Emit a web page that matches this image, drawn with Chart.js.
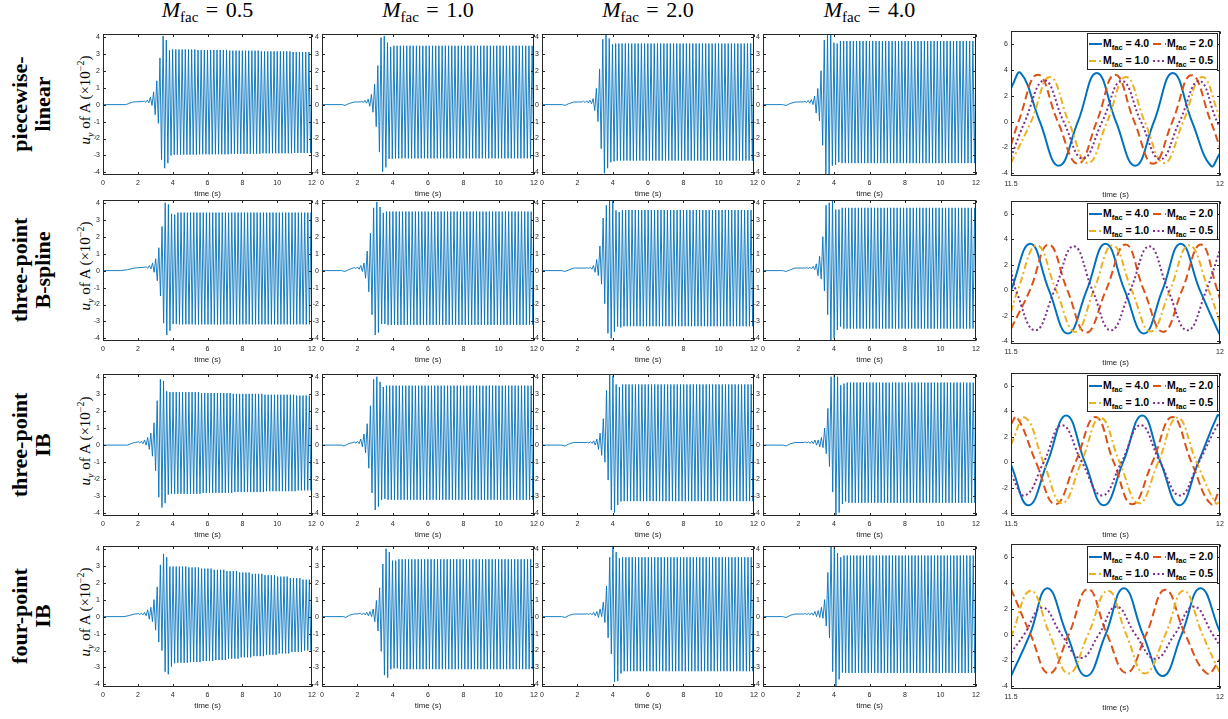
<!DOCTYPE html>
<html>
<head>
<meta charset="utf-8">
<title>u_y of A, four kernels, four mass factors</title>
<script src="https://cdn.jsdelivr.net/npm/chart.js@4.4.1/dist/chart.umd.min.js"></script>
<style>
  body { margin: 0; width: 1228px; height: 719px; background: #fff; position: relative; overflow: hidden; }
  canvas { position: absolute; }
  .lbl { position: absolute; white-space: nowrap; font-family: "Liberation Serif", "DejaVu Serif", serif; color: #000; }
  .coltitle { font-size: 22px; transform: translateX(-50%); }
  .coltitle sub { font-style: normal; font-size: 15px; vertical-align: -5px; line-height: 0; }
  .coltitle .eq { margin: 0 2px; }
  .rowlabel { font-size: 22px; font-weight: bold; line-height: 23px; text-align: center; transform: translate(-50%, -50%) rotate(-90deg); }
  .ylabel { font-size: 15px; transform: translate(-50%, -50%) rotate(-90deg); }
  .ylabel sub, .ylabel sup { font-size: 10px; line-height: 0; }
  .legend { position: absolute; border: 1px solid #262626; background: #fff; font: bold 10.5px "Liberation Sans", Arial, sans-serif; color: #000;
            padding: 1px 0 0 1px; box-sizing: border-box; overflow: hidden; }
  .legend .item { display: inline-block; width: 64px; height: 17px; line-height: 17px; white-space: nowrap; vertical-align: top; }
  .legend svg { vertical-align: middle; margin-right: 1px; }
  .legend sub { font-size: 7.5px; line-height: 0; vertical-align: -3px; }
</style>
</head>
<body>
<script>
// ---- tick values ----
const leftXTicks = [0, 2, 4, 6, 8, 10, 12];
const leftYTicks = [-4, -3, -2, -1, 0, 1, 2, 3, 4];
const zoomXTicks = [11.5, 12];
const zoomYTicks = [-4, -2, 0, 2, 4, 6];

const mfacLabels = ['0.5', '1.0', '2.0', '4.0'];
const kernelLabels = [['piecewise-', 'linear'], ['three-point', 'B-spline'], ['three-point', 'IB'], ['four-point', 'IB']];

// oscillation period (s), read from the 11.5-12 s close-ups
const PERIOD = 0.182;

// ---- slow drift before the flutter starts: [t, u] ----
const driftPL05 = [[0, 0], [1.3, 0], [1.45, 0.05], [1.7, 0.15], [2.0, 0.17], [2.3, 0.18]];
const driftPL10 = [[0, 0], [1.15, 0], [1.3, -0.05], [1.5, 0.05], [1.8, 0.15], [2.2, 0.16]];
const driftPL20 = [[0, 0], [1.15, 0], [1.3, -0.05], [1.5, 0.05], [1.8, 0.15], [2.3, 0.16]];
const driftPL40 = [[0, 0], [1.1, 0], [1.3, -0.05], [1.5, 0.05], [1.8, 0.15], [2.3, 0.16]];
const driftBS05 = [[0, 0], [1.0, 0], [1.4, 0.05], [1.8, 0.15], [2.4, 0.2]];
const driftBS10 = [[0, 0], [1.1, 0], [1.3, -0.05], [1.5, 0.05], [1.75, 0.15]];
const driftBS20 = [[0, 0], [1.1, 0], [1.3, -0.05], [1.55, 0.05], [1.8, 0.15], [2.5, 0.15]];
const driftBS40 = [[0, 0], [1.1, 0], [1.3, -0.05], [1.55, 0.05], [1.8, 0.15], [2.4, 0.15]];
const driftIB3_05 = [[0, 0], [1.4, 0], [1.6, 0.08], [1.8, 0.15], [1.95, 0.17]];
const driftIB3_10 = [[0, 0], [1.1, 0], [1.25, -0.05], [1.5, 0.08], [1.75, 0.15]];
const driftIB3_20 = [[0, 0], [1.1, 0], [1.3, -0.05], [1.55, 0.08], [1.8, 0.15], [2.5, 0.15]];
const driftIB3_40 = [[0, 0], [1.1, 0], [1.3, -0.05], [1.55, 0.08], [1.8, 0.15], [2.3, 0.15]];
const driftIB4_05 = [[0, 0], [1.2, 0], [1.45, 0.05], [1.8, 0.15], [1.95, 0.16]];
const driftIB4_10 = [[0, 0], [1.2, 0], [1.35, -0.05], [1.55, 0.08], [1.8, 0.15], [2.1, 0.17]];
const driftIB4_20 = [[0, 0], [1.1, 0], [1.3, -0.05], [1.55, 0.08], [1.8, 0.15], [2.5, 0.15]];
const driftIB4_40 = [[0, 0], [1.1, 0], [1.3, -0.05], [1.55, 0.08], [1.8, 0.15], [2.3, 0.15]];

// time of the first listed cycle, per kernel row (Mfac 0.5, 1.0, 2.0, 4.0)
const onsetPL = [2.36, 2.25, 2.35, 2.36];
const onsetBS = [2.48, 1.83, 2.55, 2.46];
const onsetIB3 = [2.02, 1.83, 2.56, 2.38];
const onsetIB4 = [2.02, 2.17, 2.56, 2.38];

// ---- cycle extremes: [upper peak, lower peak, number of cycles] ----
const peaksPL05 = [[0.22, 0.14, 1], [0.26, 0.1, 1], [0.45, -0.05, 1], [0.75, -0.6, 1], [1.4, -1.1, 1], [2.75, -3.25, 1],
  [4.05, -3.75, 1], [3.8, -3.45, 1], [3.2, -3.0, 1], [3.25, -2.95, 8], [3.22, -2.93, 10], [3.18, -2.9, 10], [3.14, -2.87, 10], [3.1, -2.85, 14]];
const peaksPL10 = [[0.2, 0.12, 1], [0.25, 0.08, 1], [0.32, -0.1, 1], [0.6, -0.45, 1], [1.2, -1.3, 1], [2.3, -2.8, 1],
  [3.95, -3.95, 1], [4.05, -3.7, 1], [3.65, -3.2, 1], [3.4, -3.2, 1], [3.47, -3.17, 50]];
const peaksPL20 = [[0.2, 0.12, 1], [0.22, 0.1, 1], [0.25, 0.05, 1], [0.35, -0.35, 1], [0.95, -1.0, 1], [2.1, -2.6, 1],
  [3.85, -4.05, 1], [4.2, -3.75, 1], [3.9, -3.4, 1], [3.55, -3.35, 1], [3.6, -3.3, 50]];
const peaksPL40 = [[0.2, 0.12, 1], [0.25, 0.08, 1], [0.3, 0.0, 1], [0.5, -0.5, 1], [0.95, -0.95, 1], [2.0, -2.4, 1],
  [3.8, -4.2, 1], [4.2, -4.2, 1], [4.2, -3.6, 1], [3.65, -3.55, 1], [3.6, -3.4, 1], [3.75, -3.45, 50]];

const peaksBS05 = [[0.22, 0.14, 1], [0.3, 0.1, 1], [0.45, -0.1, 1], [0.7, -0.6, 1], [1.35, -1.5, 1], [2.6, -3.1, 1],
  [4.0, -3.8, 1], [3.9, -3.55, 1], [3.35, -3.15, 1], [3.3, -3.15, 1], [3.42, -3.17, 50]];
const peaksBS10 = [[0.18, 0.12, 1], [0.22, 0.08, 1], [0.3, -0.05, 1], [0.45, -0.45, 1], [1.15, -1.25, 1], [2.2, -2.6, 1],
  [3.7, -3.8, 1], [4.05, -3.65, 1], [3.75, -3.15, 1], [3.4, -3.15, 1], [3.48, -3.2, 50]];
const peaksBS20 = [[0.18, 0.12, 1], [0.2, 0.08, 1], [0.3, -0.1, 1], [0.65, -0.3, 1], [1.45, -0.8, 1], [3.1, -1.95, 1],
  [3.85, -3.7, 1], [4.2, -4.0, 1], [4.2, -3.6, 1], [3.55, -3.3, 1], [3.45, -3.35, 1], [3.57, -3.28, 50]];
const peaksBS40 = [[0.18, 0.12, 1], [0.2, 0.1, 1], [0.25, 0.05, 1], [0.4, -0.3, 1], [0.85, -0.5, 1], [2.0, -1.2, 1],
  [3.85, -2.6, 1], [4.0, -4.2, 1], [4.2, -4.0, 1], [3.6, -3.5, 1], [3.6, -3.3, 1], [3.7, -3.42, 50]];

const peaksIB3_05 = [[0.2, 0.12, 1], [0.22, 0.08, 1], [0.3, 0.0, 1], [0.45, -0.25, 1], [0.7, -0.65, 1], [1.3, -1.5, 1],
  [2.6, -3.05, 1], [3.85, -3.65, 1], [3.75, -3.4, 1], [3.15, -2.9, 1], [3.1, -2.85, 10], [3.05, -2.8, 10],
  [3.0, -2.75, 10], [2.95, -2.7, 10], [2.9, -2.65, 12]];
const peaksIB3_10 = [[0.18, 0.12, 1], [0.22, 0.08, 1], [0.35, -0.1, 1], [0.65, -0.45, 1], [1.25, -1.35, 1], [2.3, -2.8, 1],
  [3.85, -3.8, 1], [4.0, -3.6, 1], [3.7, -3.2, 1], [3.4, -3.15, 1], [3.48, -3.2, 50]];
const peaksIB3_20 = [[0.18, 0.12, 1], [0.2, 0.1, 1], [0.25, 0.0, 1], [0.35, -0.25, 1], [0.7, -0.6, 1], [1.55, -1.0, 1],
  [3.2, -2.05, 1], [4.2, -3.8, 1], [4.05, -3.95, 1], [3.55, -3.5, 1], [3.4, -3.3, 1], [3.55, -3.28, 50]];
const peaksIB3_40 = [[0.18, 0.12, 1], [0.2, 0.1, 1], [0.22, 0.08, 1], [0.3, 0.0, 1], [0.3, -0.1, 1], [0.45, -0.15, 1],
  [1.0, -0.5, 1], [2.15, -1.25, 1], [4.0, -2.75, 1], [4.2, -4.2, 1], [4.0, -3.95, 1], [3.5, -3.45, 1],
  [3.6, -3.3, 1], [3.66, -3.38, 50]];

const peaksIB4_05 = [[0.18, 0.12, 1], [0.2, 0.1, 1], [0.25, 0.05, 1], [0.4, -0.15, 1], [0.55, -0.3, 1], [1.0, -0.8, 1],
  [1.75, -1.5, 1], [3.05, -2.0, 1], [3.7, -3.25, 1], [3.5, -3.4, 1], [2.95, -2.95, 1], [2.95, -2.75, 1],
  [2.95, -2.72, 4], [2.9, -2.68, 4], [2.83, -2.62, 4], [2.76, -2.56, 4], [2.68, -2.48, 4], [2.6, -2.4, 4],
  [2.52, -2.33, 4], [2.44, -2.25, 4], [2.36, -2.17, 4], [2.27, -2.08, 4], [2.18, -2.0, 6]];
const peaksIB4_10 = [[0.2, 0.12, 1], [0.22, 0.1, 1], [0.25, 0.05, 1], [0.3, 0.0, 1], [0.45, -0.3, 1], [0.95, -0.85, 1],
  [1.7, -2.05, 1], [3.1, -3.45, 1], [4.0, -3.6, 1], [3.8, -3.1, 1], [3.3, -3.05, 1], [3.3, -3.05, 1], [3.38, -3.1, 50]];
const peaksIB4_20 = [[0.18, 0.12, 1], [0.2, 0.1, 1], [0.25, 0.05, 1], [0.3, -0.05, 1], [0.45, 0.0, 1], [0.85, -0.35, 1],
  [1.8, -1.25, 1], [3.5, -2.2, 1], [4.2, -3.85, 1], [3.8, -3.8, 1], [3.45, -3.35, 1], [3.5, -3.22, 50]];
const peaksIB4_40 = [[0.18, 0.12, 1], [0.2, 0.1, 1], [0.22, 0.08, 1], [0.3, 0.0, 1], [0.35, -0.05, 1], [0.55, -0.1, 1],
  [1.0, -0.55, 1], [2.6, -1.25, 1], [4.2, -3.25, 1], [4.2, -4.2, 1], [3.75, -3.7, 1], [3.5, -3.3, 1], [3.6, -3.32, 50]];

// ---- close-ups 11.5-12 s: [t, u] at extremes and zero crossings ----
const zPL40 = [[11.5, 2.6], [11.523, 3.77], [11.569, 0], [11.614, -3.41], [11.66, 0], [11.705, 3.77], [11.751, 0], [11.797, -3.41], [11.842, 0], [11.887, 3.77], [11.933, 0], [11.978, -3.41], [12, -2.44]];
const zPL20 = [[11.5, -1.8], [11.518, 0], [11.564, 3.64], [11.612, 0], [11.66, -3.25], [11.705, 0], [11.749, 3.64], [11.795, 0], [11.84, -3.25], [11.886, 0], [11.932, 3.6], [11.978, 0], [12, -2.0]];
const zPL10 = [[11.5, -3.2], [11.548, 0], [11.593, 3.46], [11.638, 0], [11.684, -3.2], [11.73, 0], [11.775, 3.46], [11.82, 0], [11.866, -3.2], [11.912, 0], [11.957, 3.46], [12, 0.3]];
const zPL05 = [[11.5, -2.75], [11.533, 0], [11.58, 3.18], [11.626, 0], [11.672, -2.85], [11.718, 0], [11.765, 3.15], [11.811, 0], [11.857, -2.9], [11.903, 0], [11.95, 3.15], [11.993, 0], [12, -0.4]];

const zBS40 = [[11.5, 0], [11.546, 3.67], [11.591, 0], [11.636, -3.38], [11.681, 0], [11.726, 3.67], [11.772, 0], [11.818, -3.38], [11.862, 0], [11.906, 3.67], [11.952, 0], [11.998, -3.38], [12, -3.38]];
const zBS20 = [[11.5, -3.0], [11.545, 0], [11.59, 3.6], [11.635, 0], [11.68, -3.3], [11.727, 0], [11.774, 3.6], [11.818, 0], [11.864, -3.25], [11.909, 0], [11.954, 3.6], [11.994, 0], [12, -0.7]];
const zBS10 = [[11.5, -1.7], [11.516, 0], [11.562, 3.54], [11.608, 0], [11.654, -3.25], [11.698, 0], [11.743, 3.54], [11.789, 0], [11.834, -3.22], [11.88, 0], [11.926, 3.54], [11.973, 0], [12, -2.5]];
const zBS05 = [[11.5, 1.6], [11.512, 0], [11.558, -3.13], [11.604, 0], [11.65, 3.46], [11.695, 0], [11.739, -3.13], [11.785, 0], [11.831, 3.46], [11.876, 0], [11.922, -3.13], [11.967, 0], [12, 3.2]];

const zIB3_40 = [[11.5, -0.2], [11.542, -3.36], [11.587, 0], [11.632, 3.69], [11.677, 0], [11.722, -3.36], [11.768, 0], [11.814, 3.69], [11.858, 0], [11.903, -3.36], [11.948, 0], [11.994, 3.69], [12, 3.65]];
const zIB3_20 = [[11.5, 3.0], [11.514, 3.56], [11.56, 0], [11.606, -3.28], [11.654, 0], [11.702, 3.56], [11.746, 0], [11.79, -3.28], [11.838, 0], [11.886, 3.56], [11.932, 0], [11.978, -3.25], [12, -2.1]];
const zIB3_10 = [[11.5, 1.4], [11.534, 3.51], [11.578, 0], [11.622, -3.2], [11.668, 0], [11.714, 3.51], [11.76, 0], [11.806, -3.2], [11.852, 0], [11.898, 3.51], [11.944, 0], [11.99, -3.2], [12, -3.1]];
const zIB3_05 = [[11.5, -1.0], [11.534, -2.59], [11.578, 0], [11.622, 2.92], [11.67, 0], [11.718, -2.59], [11.764, 0], [11.81, 2.92], [11.857, 0], [11.904, -2.59], [11.949, 0], [11.994, 2.92], [12, 2.9]];

const zIB4_40 = [[11.5, -3.2], [11.545, 0], [11.587, 3.6], [11.634, 0], [11.68, -3.2], [11.726, 0], [11.77, 3.6], [11.816, 0], [11.863, -3.2], [11.908, 0], [11.953, 3.6], [12, 0.2]];
const zIB4_20 = [[11.5, 3.53], [11.547, 0], [11.591, -3.0], [11.638, 0], [11.684, 3.53], [11.73, 0], [11.776, -2.95], [11.823, 0], [11.869, 3.48], [11.917, 0], [11.969, -3.0], [12, -1.9]];
const zIB4_10 = [[11.5, -0.2], [11.547, 3.4], [11.593, 0], [11.638, -3.0], [11.684, 0], [11.732, 3.4], [11.776, 0], [11.82, -3.0], [11.869, 0], [11.913, 3.4], [11.958, 0], [12, -3.0]];
const zIB4_05 = [[11.5, -1.4], [11.531, 0], [11.575, 2.09], [11.621, 0], [11.667, -1.81], [11.71, 0], [11.752, 2.17], [11.798, 0], [11.845, -1.86], [11.891, 0], [11.937, 2.17], [11.983, 0], [12, -0.9]];

// ---- grouping per row ----
const drifts = [
  [driftPL05, driftPL10, driftPL20, driftPL40],
  [driftBS05, driftBS10, driftBS20, driftBS40],
  [driftIB3_05, driftIB3_10, driftIB3_20, driftIB3_40],
  [driftIB4_05, driftIB4_10, driftIB4_20, driftIB4_40]
];
const onsets = [onsetPL, onsetBS, onsetIB3, onsetIB4];
const peaks = [
  [peaksPL05, peaksPL10, peaksPL20, peaksPL40],
  [peaksBS05, peaksBS10, peaksBS20, peaksBS40],
  [peaksIB3_05, peaksIB3_10, peaksIB3_20, peaksIB3_40],
  [peaksIB4_05, peaksIB4_10, peaksIB4_20, peaksIB4_40]
];
// close-up series in legend order: 4.0, 2.0, 1.0, 0.5
const closeups = [
  [zPL40, zPL20, zPL10, zPL05],
  [zBS40, zBS20, zBS10, zBS05],
  [zIB3_40, zIB3_20, zIB3_10, zIB3_05],
  [zIB4_40, zIB4_20, zIB4_10, zIB4_05]
];

// ---- styles and layout ----
const BLUE = '#0072BD', RED = '#D95319', YELLOW = '#EDB120', PURPLE = '#7E2F8E', AXIS = '#262626';
const seriesStyle = [
  { label: '4.0', color: BLUE, dash: [] },
  { label: '2.0', color: RED, dash: [8, 4] },
  { label: '1.0', color: YELLOW, dash: [7, 3, 2, 3] },
  { label: '0.5', color: PURPLE, dash: [2, 2.5] }
];
const colX = [[103, 312], [322, 534], [542, 754], [763, 976]];
const rowY = [[33, 175], [199, 341], [373, 516], [545, 687]];
const zoomX = [1011, 1220];
const zoomY = [[30, 176], [200, 344], [372, 516], [543, 689]];
const PL = 16, PR = 8, PT = 6, PB = 24;
const TICK_FONT = { family: '"Liberation Sans", Arial, sans-serif', size: 7 };

// turn drift + listed cycle extremes into the plotted line
function oscillation(drift, t0, list) {
  const pts = drift.map(([x, y]) => ({ x, y }));
  let t = t0;
  list.forEach(([up, lo, n]) => {
    for (let i = 0; i < n && t < 12.2; i++) {
      pts.push({ x: t, y: up });
      pts.push({ x: t + PERIOD / 2, y: lo });
      t += PERIOD;
    }
  });
  return pts;
}

// box around the axes with inward ticks on all four sides
const frame = {
  id: 'frame',
  afterDatasetsDraw(chart) {
    const { ctx, chartArea: a, scales: { x, y } } = chart;
    const L = Math.round(a.left) + 0.5, R = Math.round(a.right) - 0.5;
    const T = Math.round(a.top) + 0.5, B = Math.round(a.bottom) - 0.5;
    ctx.save();
    ctx.strokeStyle = AXIS;
    ctx.lineWidth = 1;
    ctx.strokeRect(L, T, R - L, B - T);
    ctx.beginPath();
    x.ticks.forEach(t => {
      const px = Math.round(x.getPixelForValue(t.value)) + 0.5;
      ctx.moveTo(px, B); ctx.lineTo(px, B - 2.5);
      ctx.moveTo(px, T); ctx.lineTo(px, T + 2.5);
    });
    y.ticks.forEach(t => {
      const py = Math.round(y.getPixelForValue(t.value)) + 0.5;
      ctx.moveTo(L, py); ctx.lineTo(L + 2.5, py);
      ctx.moveTo(R, py); ctx.lineTo(R - 2.5, py);
    });
    ctx.stroke();
    ctx.restore();
  }
};

function makeChart(x0, x1, y0, y1, datasets, xRange, xTicks, yRange, yTicks) {
  const cv = document.createElement('canvas');
  cv.width = PL + (x1 - x0) + PR;
  cv.height = PT + (y1 - y0) + PB;
  cv.style.left = (x0 - PL) + 'px';
  cv.style.top = (y0 - PT) + 'px';
  document.body.appendChild(cv);
  return new Chart(cv, {
    type: 'line',
    data: { datasets },
    options: {
      responsive: false, animation: false, devicePixelRatio: 1, events: [],
      parsing: false, normalized: true,
      layout: { padding: { top: PT, right: PR, left: 0, bottom: 0 } },
      plugins: { legend: { display: false }, tooltip: { enabled: false } },
      elements: { point: { radius: 0 } },
      scales: {
        x: {
          type: 'linear', min: xRange[0], max: xRange[1],
          grid: { display: false, drawTicks: false }, border: { display: false },
          afterBuildTicks: s => { s.ticks = xTicks.map(v => ({ value: v })); },
          afterFit: s => { s.height = PB; },
          ticks: { font: TICK_FONT, color: AXIS, padding: 4, maxRotation: 0, autoSkip: false, callback: v => String(v) },
          title: { display: true, text: 'time (s)', color: AXIS, font: { family: TICK_FONT.family, size: 8 }, padding: { top: 0, bottom: 0 } }
        },
        y: {
          type: 'linear', min: yRange[0], max: yRange[1],
          grid: { display: false, drawTicks: false }, border: { display: false },
          afterBuildTicks: s => { s.ticks = yTicks.map(v => ({ value: v })); },
          afterFit: s => { s.width = PL; },
          ticks: { font: TICK_FONT, color: AXIS, padding: 3, autoSkip: false, callback: v => String(v) }
        }
      }
    },
    plugins: [frame]
  });
}

function addLabel(cls, html, left, top) {
  const d = document.createElement('div');
  d.className = 'lbl ' + cls;
  d.innerHTML = html;
  d.style.left = left + 'px';
  d.style.top = top + 'px';
  document.body.appendChild(d);
  return d;
}

function dashSvg(style) {
  const da = style.dash.length ? ` stroke-dasharray="${style.dash.join(',')}"` : '';
  return `<svg width="13" height="6"><line x1="0" y1="3" x2="13" y2="3" stroke="${style.color}" stroke-width="2"${da}/></svg>`;
}

// column titles
mfacLabels.forEach((m, c) => {
  addLabel('coltitle', `<i>M</i><sub>fac</sub> <span class="eq">=</span> ${m}`, (colX[c][0] + colX[c][1]) / 2, -3);
});

for (let r = 0; r < 4; r++) {
  const [y0, y1] = rowY[r];
  const mid = (y0 + y1) / 2;
  addLabel('rowlabel', kernelLabels[r].join('<br>'), 31, mid);
  addLabel('ylabel', '<i>u</i><sub><i>y</i></sub> of A (&times;10<sup>&minus;2</sup>)', 85, mid - 4);

  for (let c = 0; c < 4; c++) {
    const pts = oscillation(drifts[r][c], onsets[r][c], peaks[r][c]);
    makeChart(colX[c][0], colX[c][1], y0, y1,
      [{ data: pts, borderColor: BLUE, borderWidth: 0.9, tension: 0 }],
      [0, 12], leftXTicks, [-4.15, 4.15], leftYTicks);
  }

  // close-up of the last half second
  const [zy0, zy1] = zoomY[r];
  const sets = closeups[r].map((arr, i) => ({
    data: arr.map(([x, y]) => ({ x, y })),
    borderColor: seriesStyle[i].color,
    borderDash: seriesStyle[i].dash,
    borderWidth: 2,
    borderCapStyle: 'butt',
    tension: 0.45,
    order: 3 - i
  }));
  makeChart(zoomX[0], zoomX[1], zy0, zy1, sets, [11.5, 12], zoomXTicks, [-4.2, 7], zoomYTicks);

  const lg = document.createElement('div');
  lg.className = 'legend';
  lg.style.left = '1087px';
  lg.style.top = (zy0 + 3) + 'px';
  lg.style.width = '131px';
  lg.style.height = '37px';
  lg.innerHTML = seriesStyle.map(s =>
    `<span class="item">${dashSvg(s)}M<sub>fac</sub> = ${s.label}</span>`).join('');
  document.body.appendChild(lg);
}
</script>
</body>
</html>
